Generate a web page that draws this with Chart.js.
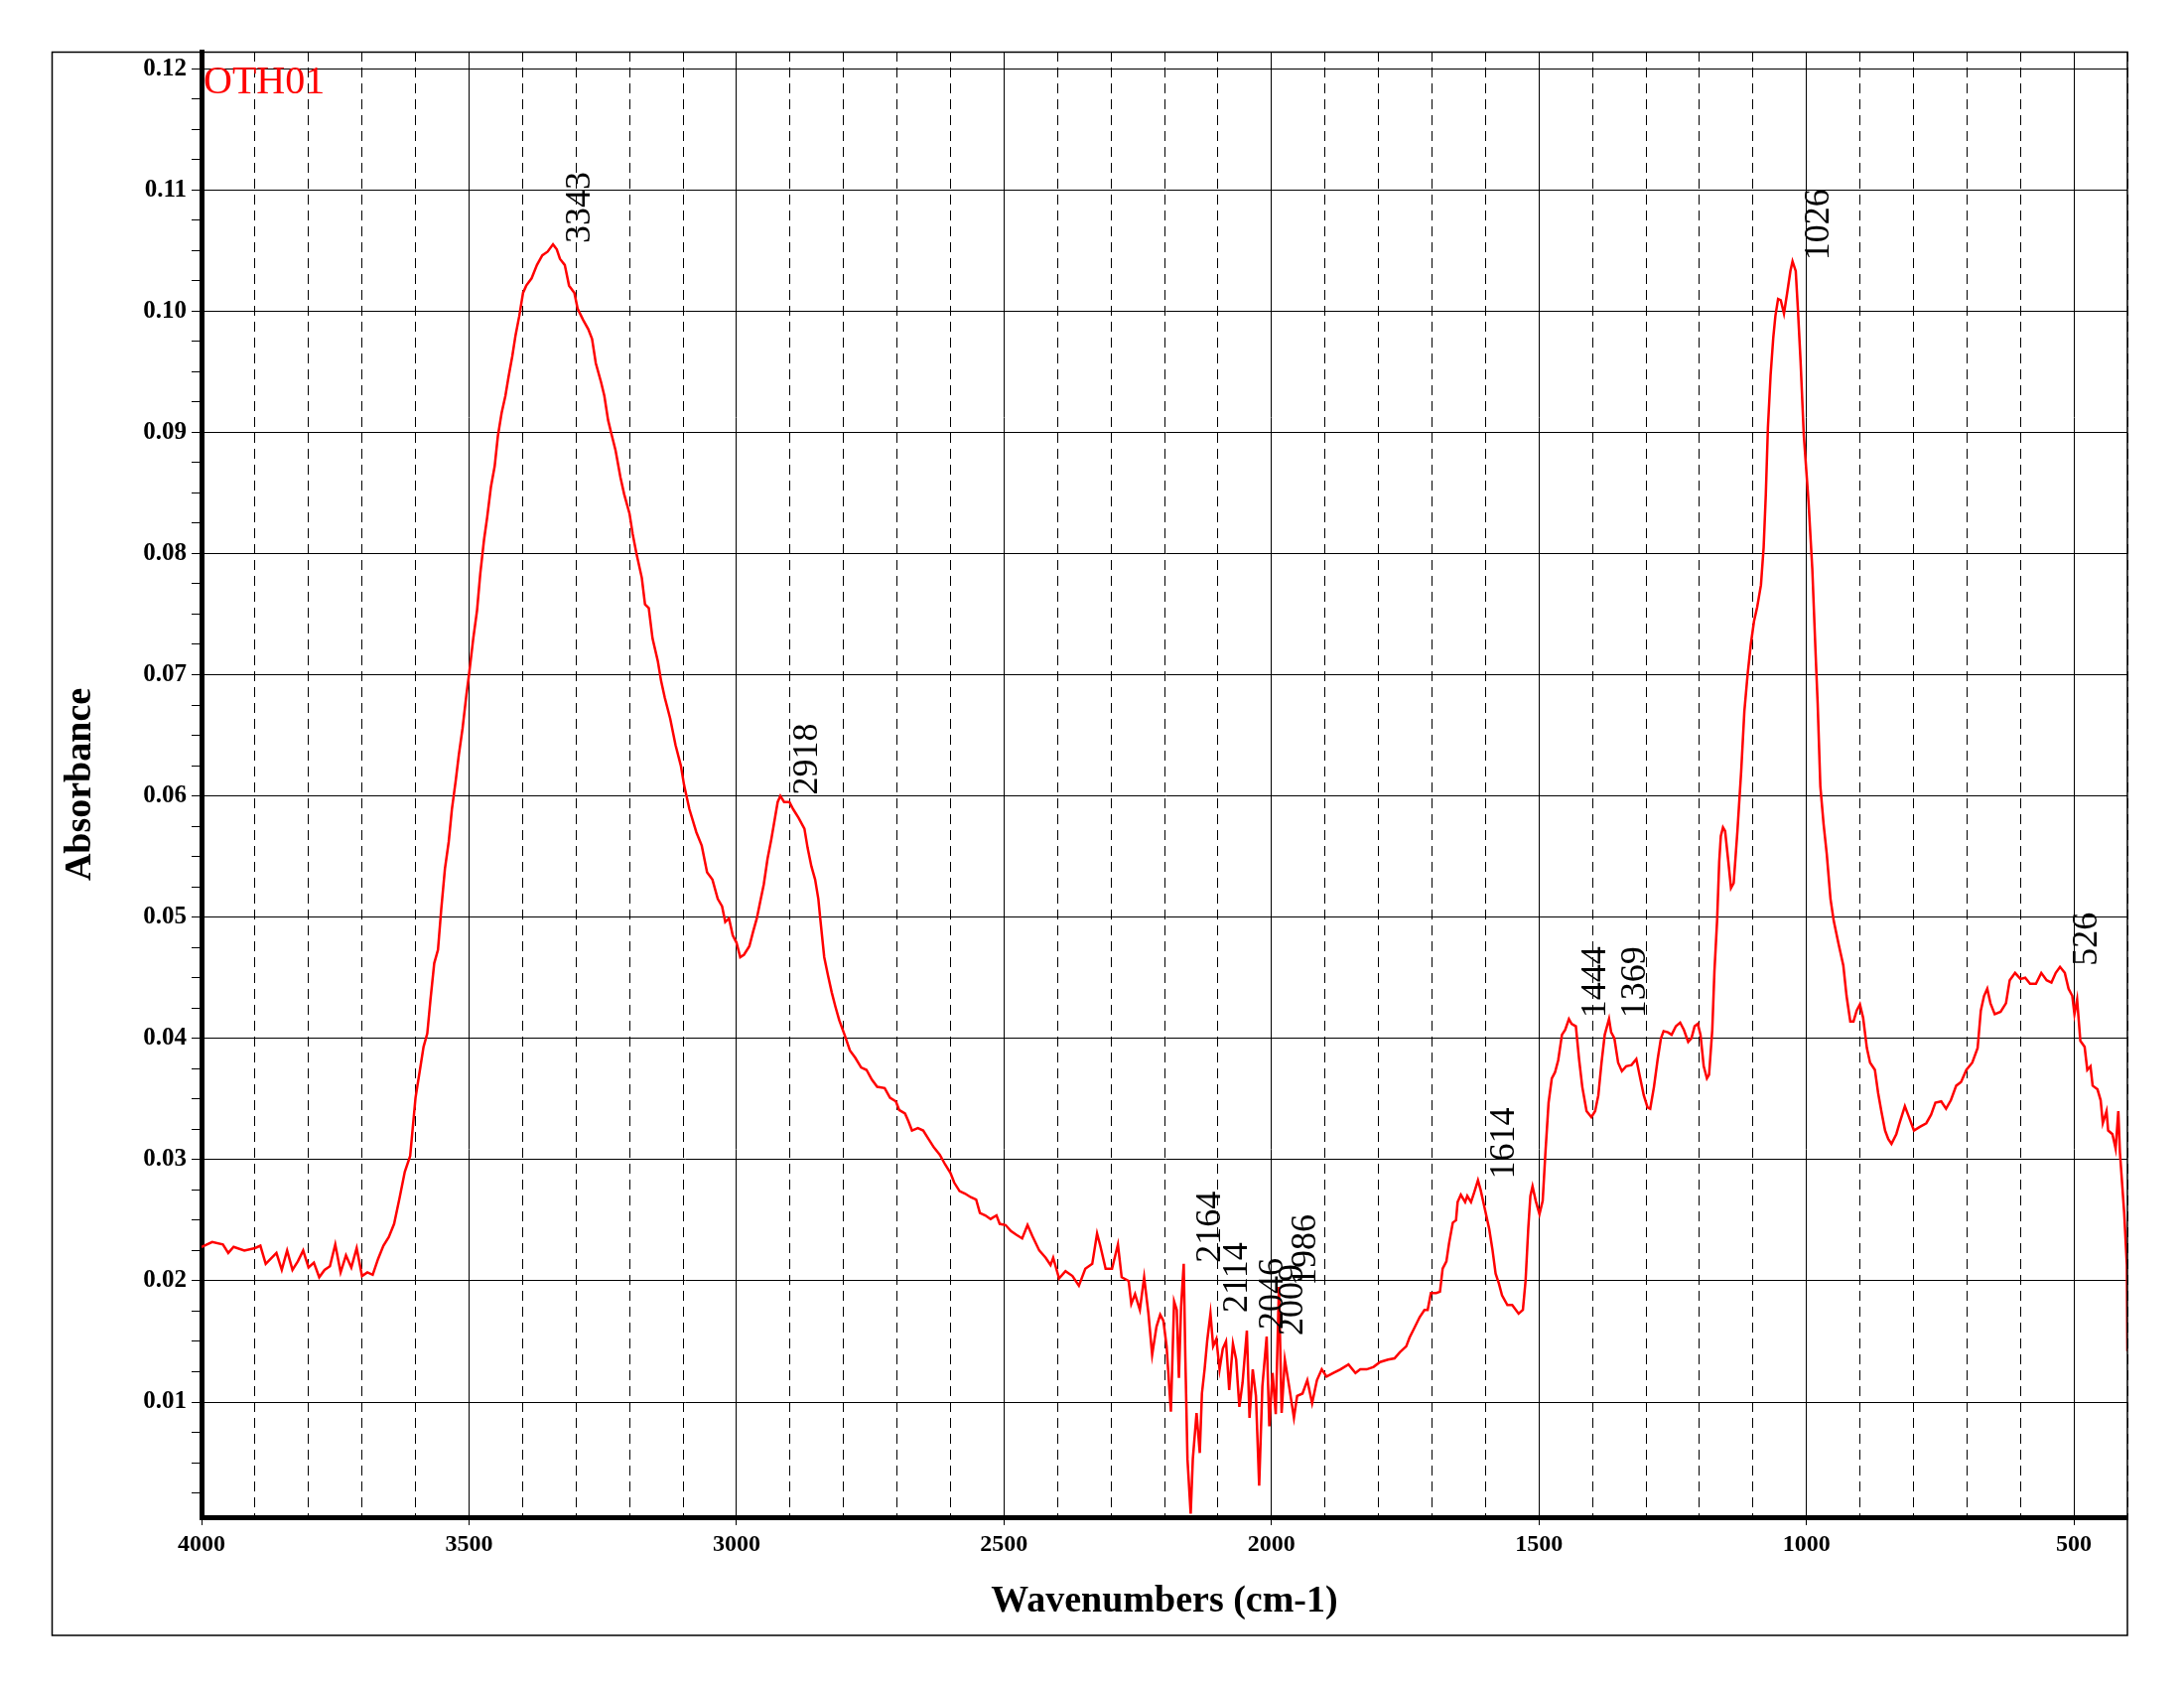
<!DOCTYPE html>
<html>
<head>
<meta charset="utf-8">
<script src="https://cdn.jsdelivr.net/npm/chart.js@4.4.0/dist/chart.umd.min.js"></script>
<style>
html,body{margin:0;padding:0;background:#ffffff;}
canvas{display:block;}
</style>
</head>
<body>
<canvas id="c" width="2200" height="1700"></canvas>
<script>
// ---------------- data ----------------
const sampleName = 'OTH01';
const xTitle = 'Wavenumbers (cm-1)';
const yTitle = 'Absorbance';

const wavenumbers = [
4000,3980,3960,3950,3940,3920,3900,3890,3880,3860,3850,3840,3830,3820,3810,3800,3790,3780,3770,3760,3750,3740,3730,3720,3710,3700,3690,3680,3670,3660,3650,3640,3630,3620,3610,
3600,3591,3585,3578,3572,3565,3558,3552,3545,3538,3532,3525,3519,3512,3505,3500,3492,3485,3479,3472,3466,3459,3452,3446,3439,3432,3426,3419,3413,3406,3399,3393,3383,3373,3363,3353,3343,3336,3330,3321,3313,3303,3297,3287,3277,3270,3263,3253,3247,3240,3234,3226,3217,3210,3200,3194,3187,3177,3171,3164,3157,3147,3141,3134,3124,3114,3104,3098,3088,3075,3065,3055,3045,3035,3027,3021,3014,3007,3000,2993,2986,2976,2969,2962,2956,2949,2942,2935,2928,2923,2918,2911,2901,2894,2884,2873,2867,2860,2853,2847,2843,2836,2829,2822,2815,2808,2798,2788,2778,2767,2757,2747,2737,2723,2713,2702,2696,2685,2679,2672,2661,2651,2641,2631,2620,2610,2600,2593,2583,2573,2562,2552,2545,2535,2525,2514,2508,2497,2487,2477,2466,2456,
2447,2434,2422,2413,2408,2397,2385,2372,2360,2348,2335,2326,2320,2310,2298,2287,2280,2267,2262,2255,2246,2238,2230,2223,2215,2208,2202,2196,2188,2182,2177,2173,2169,2164,2161,2157,2151,2147,2140,2134,2130,2125,2120,2114,2109,2103,2097,2091,2085,2079,2072,2066,2060,2054,2046,2041,2035,2029,2023,2017,2009,2004,1998,1992,1986,1981,1975,1967,1958,1952,1942,1933,1924,1915,1906,1897,1884,1871,1856,1843,1834,1822,1809,1797,1782,
1770,1760,1748,1742,1733,1723,1714,1708,1702,1692,1685,1680,1673,1668,1661,1655,1652,1646,1638,1634,1627,1621,1614,1609,1603,1593,1587,1581,1575,1569,1559,1550,1538,1530,1525,1520,1516,1512,1506,1499,1493,1488,1482,1476,1470,1464,1457,1451,1444,1439,1431,1425,1419,1411,1402,1395,1389,1383,1377,1369,1365,1359,1352,1345,1337,1327,1318,1312,1304,1297,1292,1285,1278,1272,1267,1259,1252,1244,1236,1229,1221,1215,1209,1203,1198,1192,1186,1182,1176,1172,1167,1163,1160,1156,1152,1146,1141,1136,1129,1122,1116,1110,1104,1098,1092,1085,1080,1076,1072,1067,1062,1058,1053,1048,1042,1036,1030,1026,1020,1016,1011,1005,1000,996,989,983,979,974,968,962,955,949,940,931,925,918,912,906,900,894,887,881,872,866,860,853,847,841,832,826,816,810,799,788,776,767,759,748,739,730,720,711,701,690,680,674,668,662,656,648,637,627,620,610,600,591,582,571,561,551,542,534,526,517,510,503,499,494,488,480,475,469,465,456,450,446,439,436,428,422,417,414,410,406,401,400
];

const absorbance = [
0.0228,0.0232,0.0230,0.0223,0.0228,0.0225,0.0227,0.0229,0.0214,0.0223,0.0209,0.0225,0.0209,0.0216,0.0225,0.0211,0.0215,0.0203,0.0209,0.0212,0.0230,0.0207,0.0221,0.0211,0.0227,0.0204,0.0207,0.0205,0.0218,0.0229,0.0236,0.0247,0.0268,0.0290,0.0303,
0.0351,0.0376,0.0393,0.0404,0.0432,0.0462,0.0473,0.0506,0.0540,0.0562,0.0589,0.0612,0.0634,0.0656,0.0683,0.0700,0.0730,0.0753,0.0783,0.0811,0.0830,0.0855,0.0872,0.0897,0.0916,0.0930,0.0946,0.0963,0.0980,0.0996,0.1015,0.1021,0.1027,0.1038,0.1046,0.1049,0.1055,0.1051,0.1043,0.1038,0.1021,0.1015,0.1002,0.0993,0.0985,0.0977,0.0957,0.0941,0.0930,0.0910,0.0899,0.0885,0.0863,0.0849,0.0833,0.0816,0.0800,0.0780,0.0758,0.0755,0.0730,0.0711,0.0695,0.0681,0.0664,0.0642,0.0625,0.0609,0.0589,0.0570,0.0559,0.0537,0.0531,0.0515,0.0509,0.0496,0.0499,0.0485,0.0479,0.0467,0.0469,0.0476,0.0488,0.0499,0.0512,0.0527,0.0548,0.0564,0.0582,0.0595,0.0600,0.0595,0.0595,0.0589,0.0582,0.0573,0.0557,0.0542,0.0531,0.0515,0.0497,0.0467,0.0452,0.0438,0.0426,0.0415,0.0403,0.0390,0.0384,0.0376,0.0374,0.0366,0.0360,0.0359,0.0351,0.0348,0.0341,0.0338,0.0332,0.0324,0.0326,0.0324,0.0317,0.0310,0.0304,0.0296,0.0289,0.0281,0.0274,0.0272,0.0269,0.0267,0.0256,0.0254,0.0251,0.0254,0.0247,0.0246,0.0241,0.0238,0.0235,0.0246,
0.0237,0.0225,0.0219,0.0213,0.0219,0.0202,0.0208,0.0204,0.0196,0.0210,0.0214,0.0239,0.0229,0.0210,0.0210,0.0230,0.0203,0.0200,0.0181,0.0189,0.0176,0.0203,0.0173,0.0139,0.0162,0.0172,0.0167,0.0146,0.0092,0.0183,0.0176,0.0120,0.0178,0.0214,0.0137,0.0053,0.0008,0.0053,0.0091,0.0058,0.0107,0.0127,0.0151,0.0173,0.0146,0.0152,0.0127,0.0144,0.0150,0.0110,0.0148,0.0135,0.0096,0.0116,0.0159,0.0087,0.0127,0.0105,0.0031,0.0113,0.0154,0.0080,0.0124,0.0090,0.0195,0.0091,0.0135,0.0113,0.0087,0.0105,0.0107,0.0118,0.0099,0.0118,0.0127,0.0121,0.0124,0.0127,0.0131,0.0124,0.0127,0.0127,0.0129,0.0133,0.0135,
0.0136,0.0141,0.0146,0.0153,0.0161,0.0170,0.0176,0.0176,0.0190,0.0190,0.0191,0.0210,0.0216,0.0231,0.0248,0.0250,0.0265,0.0271,0.0265,0.0270,0.0265,0.0273,0.0283,0.0275,0.0263,0.0243,0.0226,0.0206,0.0198,0.0188,0.0180,0.0180,0.0173,0.0176,0.0200,0.0243,0.0270,0.0278,0.0266,0.0255,0.0266,0.0305,0.0347,0.0367,0.0372,0.0382,0.0403,0.0407,0.0416,0.0412,0.0410,0.0383,0.0360,0.0340,0.0335,0.0340,0.0353,0.0380,0.0403,0.0416,0.0405,0.0400,0.0380,0.0373,0.0377,0.0378,0.0383,0.0370,0.0353,0.0343,0.0342,0.0360,0.0383,0.0400,0.0406,0.0405,0.0403,0.0410,0.0413,0.0407,0.0397,0.0400,0.0410,0.0412,0.0403,0.0377,0.0367,0.0370,0.0407,0.0455,0.0497,0.0546,0.0567,0.0574,0.0571,0.0546,0.0524,0.0528,0.0571,0.0620,0.0670,0.0700,0.0725,0.0744,0.0756,0.0774,0.0805,0.0848,0.0904,0.0947,0.0978,0.0996,0.1010,0.1009,0.0998,0.1015,0.1033,0.1041,0.1033,0.1002,0.0959,0.0898,0.0867,0.0842,0.0787,0.0719,0.0676,0.0608,0.0577,0.0552,0.0515,0.0497,0.0478,0.0460,0.0435,0.0414,0.0414,0.0423,0.0428,0.0417,0.0392,0.0380,0.0374,0.0355,0.0340,0.0324,0.0317,0.0313,0.0321,0.0330,0.0344,0.0337,0.0324,0.0327,0.0330,0.0337,0.0347,0.0348,0.0342,0.0349,0.0361,0.0364,0.0374,0.0380,0.0392,0.0423,0.0435,0.0441,0.0429,0.0420,0.0422,0.0429,0.0448,0.0454,0.0449,0.0450,0.0445,0.0445,0.0454,0.0448,0.0446,0.0454,0.0459,0.0454,0.0441,0.0435,0.0420,0.0432,0.0398,0.0393,0.0374,0.0377,0.0361,0.0358,0.0349,0.0330,0.0340,0.0324,0.0321,0.0309,0.0340,0.0306,0.0281,0.0256,0.0213,0.0142
];

// labelled peak positions (cm-1)
const peakLabels = [3343, 2918, 2164, 2114, 2046, 2009, 1986, 1614, 1444, 1369, 1026, 526];

// axis settings
const xMin = 400, xMax = 4000, xMinorStep = 100, xMajorStep = 500;
const yMin = 0.0005, yMax = 0.1214, yMinorStep = 0.0025;

// ---------------- chart ----------------
const FONT = "'Liberation Serif', 'Times New Roman', serif";
const points = wavenumbers.map((w, i) => ({ x: w, y: absorbance[i] }));
const isMajorY = v => Math.abs(v * 100 - Math.round(v * 100)) < 1e-6;
const isMajorX = v => Math.abs(v % xMajorStep) < 1e-6;

const decorPlugin = {
  id: 'decor',
  afterDatasetsDraw(chart) {
    const { ctx, scales: { x, y } } = chart;
    ctx.save();
    ctx.fillStyle = '#000';
    ctx.font = '36px ' + FONT;
    ctx.textAlign = 'left';
    ctx.textBaseline = 'middle';
    peakLabels.forEach(w => {
      let best = 0, bd = Infinity;
      wavenumbers.forEach((v, i) => { const d = Math.abs(v - w); if (d < bd) { bd = d; best = i; } });
      const px = x.getPixelForValue(w);
      const py = y.getPixelForValue(absorbance[best]);
      ctx.save();
      ctx.translate(px + 27, py - 1);
      ctx.rotate(-Math.PI / 2);
      ctx.fillText(String(w), 0, 0);
      ctx.restore();
    });
    ctx.fillStyle = '#ff0000';
    ctx.font = '40px ' + FONT;
    ctx.textBaseline = 'alphabetic';
    ctx.fillText(sampleName, chart.chartArea.left + 2, chart.chartArea.top + 42);
    ctx.restore();
  },
  afterDraw(chart) {
    const ctx = chart.ctx;
    ctx.save();
    ctx.strokeStyle = '#000';
    ctx.lineWidth = 1.5;
    ctx.strokeRect(52.5, 52.5, chart.chartArea.right - 52.5, 1647 - 52.5);
    ctx.restore();
  }
};

new Chart(document.getElementById('c').getContext('2d'), {
  type: 'line',
  data: {
    datasets: [{
      data: points,
      borderColor: '#ff0000',
      borderWidth: 2.5,
      pointRadius: 0,
      tension: 0,
      fill: false
    }]
  },
  options: {
    responsive: false,
    animation: false,
    devicePixelRatio: 1,
    layout: { padding: { left: 0, top: 52, right: 57, bottom: 0 } },
    plugins: { legend: { display: false }, tooltip: { enabled: false } },
    scales: {
      x: {
        type: 'linear',
        reverse: true,
        min: xMin,
        max: xMax,
        afterFit: s => { s.height = 172; },
        ticks: {
          stepSize: xMinorStep,
          autoSkip: false,
          maxRotation: 0,
          padding: 5,
          color: '#000',
          font: { family: FONT, size: 24, weight: 'bold' },
          callback: v => isMajorX(v) ? String(v) : ''
        },
        grid: {
          color: '#000',
          lineWidth: 1,
          tickLength: 8,
          tickColor: c => (c.tick && isMajorX(c.tick.value)) ? '#000' : 'rgba(0,0,0,0)'
        },
        border: {
          display: true,
          color: '#000',
          width: 5,
          dash: c => (c.tick && !isMajorX(c.tick.value)) ? [10, 6] : []
        },
        title: {
          display: true,
          text: xTitle,
          color: '#000',
          font: { family: FONT, size: 38, weight: 'bold' },
          padding: { top: 0, bottom: 64 }
        }
      },
      y: {
        type: 'linear',
        min: yMin,
        max: yMax,
        afterFit: s => { s.width = 203; },
        ticks: {
          stepSize: yMinorStep,
          includeBounds: false,
          autoSkip: false,
          padding: 5,
          color: '#000',
          font: { family: FONT, size: 25, weight: 'bold' },
          callback: v => isMajorY(v) ? v.toFixed(2) : ''
        },
        grid: {
          color: c => (c.tick && isMajorY(c.tick.value)) ? '#000' : 'rgba(0,0,0,0)',
          lineWidth: 1,
          tickLength: 10,
          tickColor: '#000'
        },
        border: { display: true, color: '#000', width: 5 },
        title: {
          display: true,
          text: yTitle,
          color: '#000',
          font: { family: FONT, size: 38, weight: 'bold' },
          padding: { top: 58, bottom: 0 }
        }
      }
    }
  },
  plugins: [decorPlugin]
});
</script>
</body>
</html>
